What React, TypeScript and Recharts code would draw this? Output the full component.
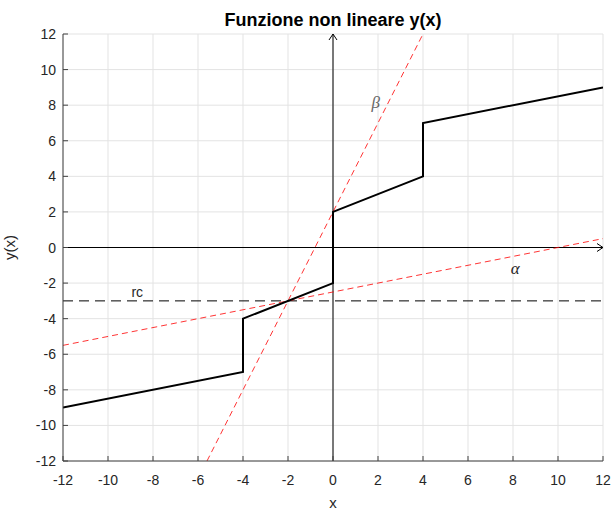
import React from 'react';
import { LineChart, Line, XAxis, YAxis, CartesianGrid, ReferenceLine, ReferenceDot } from 'recharts';

const ticks = [-12, -10, -8, -6, -4, -2, 0, 2, 4, 6, 8, 10, 12];

const curveX = [-12, -4, -4, 0, 0, 4, 4, 12];
const curveY = [-9, -7, -4, -2, 2, 4, 7, 9];

const alphaX = [-12, 12];
const alphaY = [-5.5, 0.5];

const betaX = [-5.6, 4];
const betaY = [-12, 12];

const rcX = [-12, 12];
const rcY = [-3, -3];

const labelText = ['β', 'α', 'rc'];
const labelX = [1.9, 8.1, -8.7];
const labelY = [8.1, -1.2, -2.5];

const toPts = (xs: number[], ys: number[]) => xs.map((x, i) => ({ x, y: ys[i] }));

const curve = toPts(curveX, curveY);
const alpha = toPts(alphaX, alphaY);
const beta = toPts(betaX, betaY);
const rc = toPts(rcX, rcY);

const TXT = '#262626';
const AX = '#404040';
const FONT = '"Liberation Sans", Arial, sans-serif';

const BottomTick = (p: any) => (
  <g>
    <line x1={p.x} x2={p.x} y1={p.y} y2={p.y - 5} stroke={AX} strokeWidth={1} />
    <text x={p.x} y={p.y + 24} textAnchor="middle" fontSize={14} fill={TXT} fontFamily={FONT}>
      {p.payload.value}
    </text>
  </g>
);
const TopTick = (p: any) => (
  <line x1={p.x} x2={p.x} y1={p.y} y2={p.y + 5} stroke={AX} strokeWidth={1} />
);
const LeftTick = (p: any) => (
  <g>
    <line x1={p.x} x2={p.x + 5} y1={p.y} y2={p.y} stroke={AX} strokeWidth={1} />
    <text x={p.x - 7} y={p.y + 5} textAnchor="end" fontSize={14} fill={TXT} fontFamily={FONT}>
      {p.payload.value}
    </text>
  </g>
);
const RightTick = (p: any) => (
  <line x1={p.x} x2={p.x - 5} y1={p.y} y2={p.y} stroke={AX} strokeWidth={1} />
);

const ArrowUp = (p: any) => (
  <path d={`M${p.cx - 4},${p.cy + 6} L${p.cx},${p.cy} L${p.cx + 4},${p.cy + 6}`} fill="none" stroke="#000" strokeWidth={1} />
);
const ArrowRight = (p: any) => (
  <path d={`M${p.cx - 6},${p.cy - 4} L${p.cx},${p.cy} L${p.cx - 6},${p.cy + 4}`} fill="none" stroke="#000" strokeWidth={1} />
);

const makeLabel = (t: string) => (p: any) => {
  const greek = t !== 'rc';
  return (
    <text
      x={p.cx}
      y={p.cy + 5}
      textAnchor="middle"
      fontSize={greek ? 17 : 14}
      fontStyle={greek ? 'italic' : 'normal'}
      fill={t === 'β' ? '#666666' : TXT}
      fontFamily={greek ? '"Liberation Serif", "DejaVu Serif", serif' : FONT}
    >
      {t}
    </text>
  );
};

export default function App() {
  return (
    <div style={{ position: 'absolute', left: 0, top: 0, width: 613, height: 510, background: '#fff' }}>
      <div
        style={{
          position: 'absolute',
          left: 63,
          width: 540,
          top: 11,
          lineHeight: '18px',
          textAlign: 'center',
          fontFamily: FONT,
          fontWeight: 'bold',
          fontSize: 18,
          color: '#000',
        }}
      >
        Funzione non lineare y(x)
      </div>
      <LineChart width={613} height={510} margin={{ top: 34, right: 10, left: 0, bottom: 0 }}>
        <CartesianGrid stroke="#e3e3e3" strokeWidth={1} />
        <XAxis
          dataKey="x"
          type="number"
          domain={[-12, 12]}
          ticks={ticks}
          interval={0}
          allowDataOverflow
          height={49}
          tickSize={0}
          tickMargin={0}
          tickLine={false}
          axisLine={{ stroke: AX, strokeWidth: 1 }}
          tick={BottomTick}
          label={{ value: 'x', position: 'insideBottom', offset: 2, fill: TXT, fontSize: 15, fontFamily: FONT }}
        />
        <XAxis
          xAxisId="top"
          orientation="top"
          dataKey="x"
          type="number"
          domain={[-12, 12]}
          ticks={ticks}
          interval={0}
          allowDataOverflow
          height={0}
          tickSize={0}
          tickMargin={0}
          tickLine={false}
          axisLine={{ stroke: AX, strokeWidth: 1 }}
          tick={TopTick}
        />
        <YAxis
          type="number"
          domain={[-12, 12]}
          ticks={ticks}
          interval={0}
          allowDataOverflow
          width={63}
          tickSize={0}
          tickMargin={0}
          tickLine={false}
          axisLine={{ stroke: AX, strokeWidth: 1 }}
          tick={LeftTick}
          label={{ value: 'y(x)', angle: -90, position: 'insideLeft', offset: 10, fill: TXT, fontSize: 15, fontFamily: FONT, style: { textAnchor: 'middle' } }}
        />
        <YAxis
          yAxisId="right"
          orientation="right"
          type="number"
          domain={[-12, 12]}
          ticks={ticks}
          interval={0}
          allowDataOverflow
          width={0}
          tickSize={0}
          tickMargin={0}
          tickLine={false}
          axisLine={{ stroke: AX, strokeWidth: 1 }}
          tick={RightTick}
        />
        <ReferenceLine x={0} stroke="#000" strokeWidth={1} />
        <ReferenceLine y={0} stroke="#000" strokeWidth={1} />
        <ReferenceDot x={0} y={12} shape={ArrowUp} ifOverflow="visible" />
        <ReferenceDot x={12} y={0} shape={ArrowRight} ifOverflow="visible" />
        <Line data={rc} dataKey="y" type="linear" stroke="#000" strokeWidth={1} strokeDasharray="10 6" dot={false} isAnimationActive={false} />
        <Line data={alpha} dataKey="y" type="linear" stroke="#ff0000" strokeWidth={0.8} strokeDasharray="6 4" dot={false} isAnimationActive={false} />
        <Line data={beta} dataKey="y" type="linear" stroke="#ff0000" strokeWidth={0.8} strokeDasharray="6 4" dot={false} isAnimationActive={false} />
        <Line data={curve} dataKey="y" type="linear" stroke="#000" strokeWidth={2} dot={false} isAnimationActive={false} />
        {labelText.map((t, i) => (
          <ReferenceDot key={t} x={labelX[i]} y={labelY[i]} shape={makeLabel(t)} ifOverflow="visible" />
        ))}
      </LineChart>
    </div>
  );
}
